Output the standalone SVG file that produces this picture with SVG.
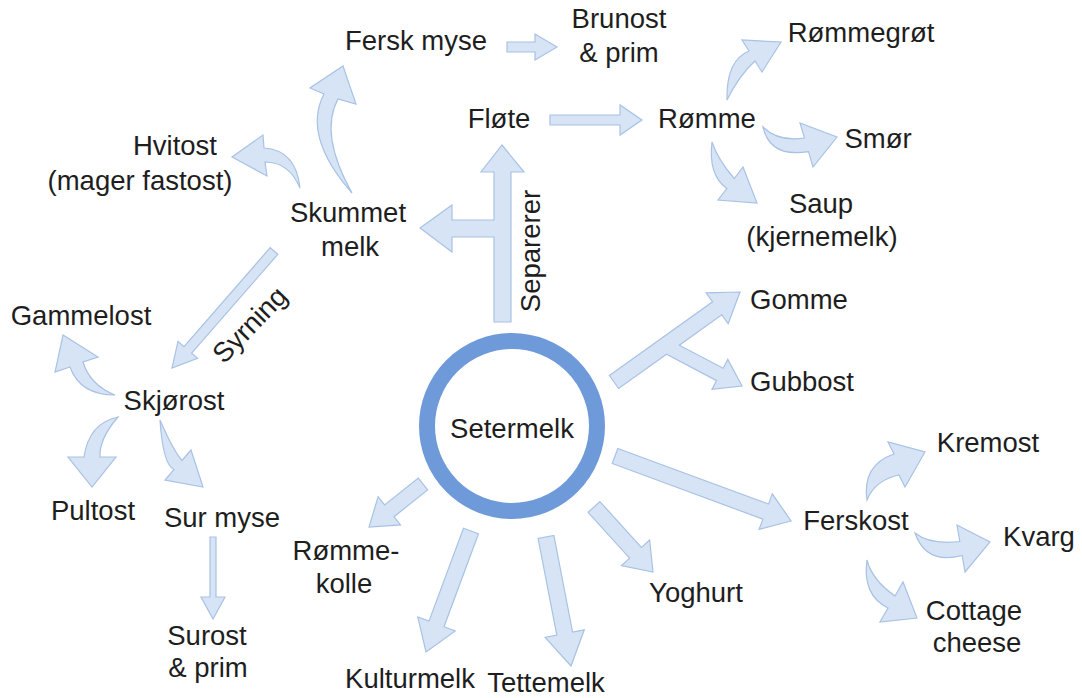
<svg xmlns="http://www.w3.org/2000/svg" width="1082" height="698" viewBox="0 0 1082 698">
<style>
text{font-family:"Liberation Sans",Arial,sans-serif;font-size:27.5px;fill:#1e1e1e;text-anchor:middle}
.a{fill:#d6e4f6;stroke:#a9c2e4;stroke-width:1.2;stroke-linejoin:miter}
</style>
<rect width="1082" height="698" fill="#ffffff"/>
<g id="connectors">
<polygon class="a" points="507,42 535,42 535,34 557,47 535,60 535,52 507,52"/>
<polygon class="a" points="550,115 620,115 620,105 642,120 620,135 620,125 550,125"/>
<polygon class="a" points="494,322 494,237 452,237 452,252 420,228 452,205 452,220 494,220 494,172 481,172 502,145 524,172 511,172 511,322"/>
<polygon class="a" points="277.8,254.3 191.6,353.2 197.6,358.4 172,368 178,341.4 184,346.6 270.2,247.7"/>
<polygon class="a" points="609.4,375.5 712.6,301.8 706.2,292.8 740,292 728.2,323.8 721.8,314.8 679.3,345.2 723.2,368.2 727.8,359.4 742,386 712,389.4 716.6,380.6 666.5,354.3 618.6,388.5"/>
<polygon class="a" points="617.8,448.5 768.5,504.1 772.3,493.8 791,521 759.1,529.4 762.9,519.1 612.2,463.5"/>
<polygon class="a" points="599.9,501.6 641.4,547.4 649.6,540 653,572 621.4,565.6 629.6,558.2 588.1,512.4"/>
<polygon class="a" points="553.9,535.5 572.6,632.1 584.3,629.8 571,666 545.1,637.4 556.8,635.1 538.1,538.5"/>
<polygon class="a" points="478.5,533.8 444,626.7 455.2,630.9 426,652 417.8,616.9 429,621.1 463.5,528.2"/>
<polygon class="a" points="427.7,489.9 394,516.7 400.5,524.9 369,527 378.1,496.7 384.6,504.9 418.3,478.1"/>
<polygon class="a" points="210,537 216,537 216,597 225,597 213,619 201,597 210,597"/>
<path class="a" d="M352,193 Q302,136 324,94 L310,88 L343,66 L356,104 L338,99 Q319,134 352,193 Z"/>
<path class="a" d="M300,188 Q296,150 264,148 L263,135 L232,157 L267,176 L265,162 Q289,162 300,188 Z"/>
<path class="a" d="M115,395 Q80,395 70,367 L55,372 L63,335 L98,357 L83,362 Q90,385 115,395 Z"/>
<path class="a" d="M118,417 Q89,423 84,457 L68,457 L92,487 L116,457 L100,457 Q99,439 118,417 Z"/>
<path class="a" d="M160,420 Q163,465 174,469.5 L165,480 L203,487 L191,450 L182,460.5 Q173,450 160,420 Z"/>
<path class="a" d="M727,100 Q726,60.5 749,51 L742,40 L781,42 L762,72 L755,61 Q739,75.5 727,100 Z"/>
<path class="a" d="M763,127 Q778,142 804.5,138 L800,123 L837,137 L813,167 L808.5,151.6 Q770,158 763,127 Z"/>
<path class="a" d="M712,142 Q708,175 726.8,188.5 L718,200 L757,203 L743,167 L734.3,178.5 Q718,160 712,142 Z"/>
<path class="a" d="M867,500 Q862,465 894,454 L888,442 L925,452 L905,487 L899,475 Q875,480 867,500 Z"/>
<path class="a" d="M915,533 Q930,545 959.8,541.5 L957,525 L990,542 L965,572 L962.2,555.5 Q926,565 915,533 Z"/>
<path class="a" d="M867,560 Q862,595 888,608 L880,622 L917,618 L903,582 L895,596 Q872,580 867,560 Z"/>
</g>
<g id="setermelk">
<circle cx="512" cy="426" r="85" fill="#ffffff" stroke="#6f9ad9" stroke-width="16"/>
<text x="512" y="438">Setermelk</text>
</g>
<g id="separerer"><text transform="translate(540,251) rotate(-90)" x="0" y="0">Separerer</text></g>
<g id="syrning"><text transform="translate(250,325) rotate(-46)" x="0" y="9">Syrning</text></g>
<g id="fersk-myse"><text x="416" y="50">Fersk myse</text></g>
<g id="brunost"><text x="619" y="28">Brunost</text><text x="619" y="62">&amp; prim</text></g>
<g id="rommegrot"><text x="861" y="42">Rømmegrøt</text></g>
<g id="flote"><text x="499" y="128">Fløte</text></g>
<g id="romme"><text x="707" y="128">Rømme</text></g>
<g id="smor"><text x="878" y="148">Smør</text></g>
<g id="hvitost"><text x="175" y="155">Hvitost</text><text x="140" y="190">(mager fastost)</text></g>
<g id="saup"><text x="821" y="213">Saup</text><text x="822" y="246">(kjernemelk)</text></g>
<g id="skummet"><text x="348" y="222">Skummet</text><text x="350" y="256">melk</text></g>
<g id="gammelost"><text x="81" y="325">Gammelost</text></g>
<g id="gomme"><text x="799" y="309">Gomme</text></g>
<g id="gubbost"><text x="802" y="391">Gubbost</text></g>
<g id="skjorost"><text x="174" y="410">Skjørost</text></g>
<g id="kremost"><text x="988" y="452">Kremost</text></g>
<g id="pultost"><text x="93" y="520">Pultost</text></g>
<g id="sur-myse"><text x="222" y="527">Sur myse</text></g>
<g id="ferskost"><text x="856" y="530">Ferskost</text></g>
<g id="kvarg"><text x="1039" y="546">Kvarg</text></g>
<g id="rommekolle"><text x="346" y="560">Rømme-</text><text x="344" y="593">kolle</text></g>
<g id="yoghurt"><text x="696" y="602">Yoghurt</text></g>
<g id="cottage"><text x="974" y="620">Cottage</text><text x="977" y="652">cheese</text></g>
<g id="surost"><text x="207" y="645">Surost</text><text x="208" y="677">&amp; prim</text></g>
<g id="kulturmelk"><text x="410" y="688">Kulturmelk</text></g>
<g id="tettemelk"><text x="546" y="692">Tettemelk</text></g>
</svg>
